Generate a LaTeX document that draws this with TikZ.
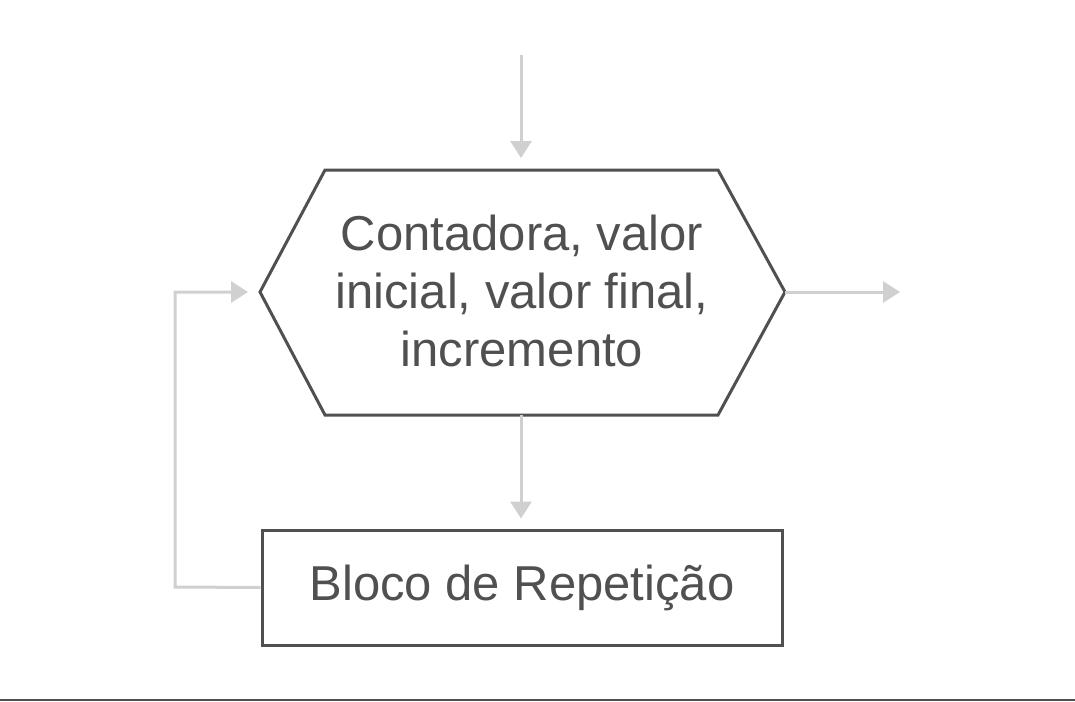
\documentclass[tikz,border=0pt]{standalone}
\usepackage{fontspec}
\setmainfont{Liberation Sans}
\usetikzlibrary{arrows.meta}
\definecolor{dk}{HTML}{505050}
\definecolor{lt}{HTML}{D0D0D0}
\tikzset{
  shapeline/.style={draw=dk, line width=3pt, line join=miter},
  conn/.style={draw=lt, line width=3pt, -{Triangle[width=21pt,length=17pt]}},
  lbl/.style={text=dk, font=\fontsize{49}{58}\selectfont, align=center}
}
\begin{document}
\begin{tikzpicture}[x=1pt,y=-1pt]
\useasboundingbox (0,0) rectangle (1075,701);
\draw[draw=dk, line width=2pt] (0,700) -- (1075,700);
% hexagon
\coordinate (hl) at (260,292);
\coordinate (htl) at (325,170);
\coordinate (htr) at (718,170);
\coordinate (hr) at (785,292);
\coordinate (hbr) at (718,415);
\coordinate (hbl) at (325,415);
\draw[shapeline] (hl) -- (htl) -- (htr) -- (hr) -- (hbr) -- (hbl) -- cycle;
\node[lbl] (hex) at (522,291) {Contadora, valor\\inicial, valor final,\\incremento};
\coordinate (htop) at (521,170);
\coordinate (hbot) at (521,415);
% box
\node[shapeline, minimum width=520pt, minimum height=115pt, lbl, inner sep=0pt] (box) at (522,587.5) {Bloco de Repetição};
% connectors
\coordinate (start) at (521,55);
\coordinate (endR) at (900,292);
\coordinate (fb) at (175,587);
\draw[conn] (start) -- ([yshift=12pt]htop);
\draw[conn] (hbot) -- ([yshift=10pt]box.north -| hbot);
\draw[conn] (hr) -- (endR);
\draw[conn] (box.west) -- (fb) |- ([xshift=-12pt]hl);
\end{tikzpicture}
\end{document}
